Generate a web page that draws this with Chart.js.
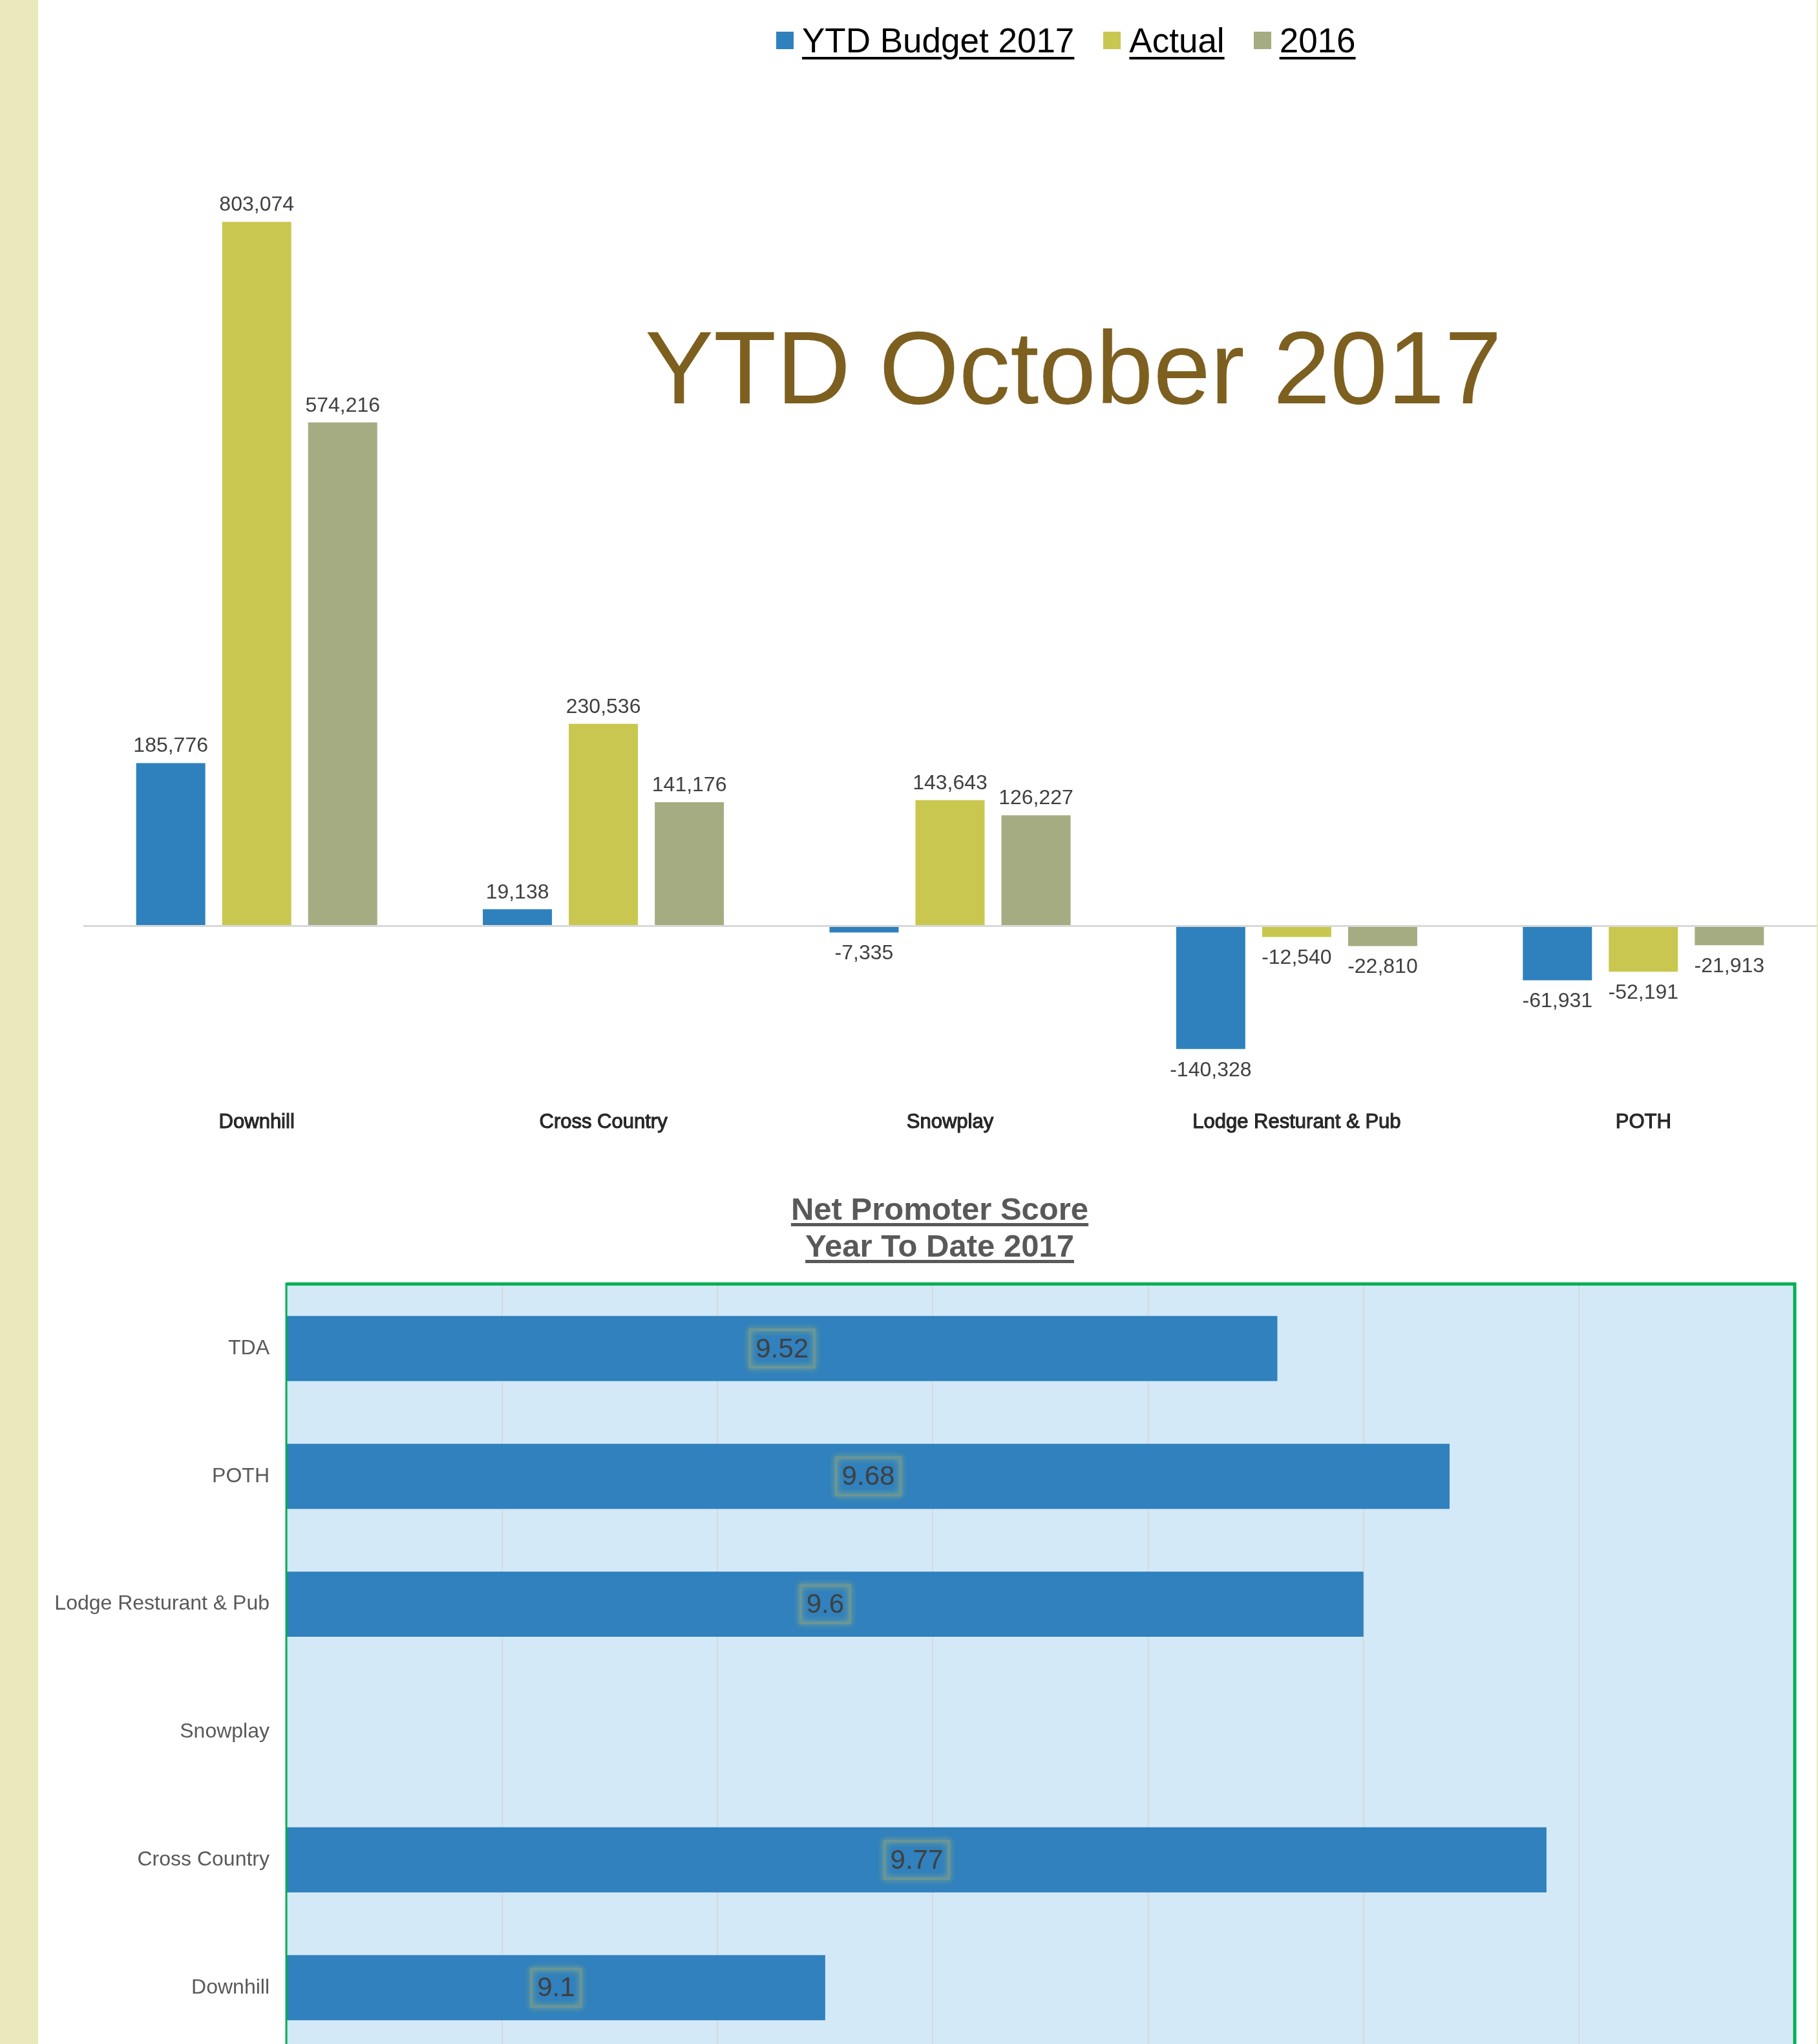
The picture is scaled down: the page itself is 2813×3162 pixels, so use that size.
<!DOCTYPE html>
<html>
<head>
<meta charset="utf-8">
<script src="https://cdn.jsdelivr.net/npm/chart.js@4.4.1/dist/chart.umd.min.js"></script>
<style>
    html, body { margin: 0; padding: 0; width: 2813px; height: 3162px; overflow: hidden; background: #fff; }
    body { position: relative; font-family: "Liberation Sans", Arial, sans-serif; }
    canvas { position: absolute; left: 0; }
    #strip { position: absolute; left: 0; top: 0; width: 59px; height: 3162px; background: #EAE9BB; z-index: 5; }
    #stripRight { position: absolute; right: 0; top: 0; width: 2px; height: 3162px; background: #EAE9BB; z-index: 5; }
    #legend { position: absolute; left: 1201px; top: 36px; display: flex; align-items: center; height: 53px; }
    .item { display: flex; align-items: center; margin-right: 45px; }
    .sq { width: 27px; height: 27px; margin-right: 13px; }
    .lbl { font-size: 53px; line-height: 53px; color: #000; text-decoration: underline; text-decoration-thickness: 4px; text-underline-offset: 7px; }
    #bigTitle { position: absolute; left: 998px; top: 490px; font-size: 159px; line-height: 159px; color: #7D5F20; white-space: nowrap; }
    #npsTitle { position: absolute; left: 1054px; width: 800px; top: 1842px; text-align: center; font-size: 49px; line-height: 57px; font-weight: bold; color: #595959; text-decoration: underline; text-decoration-thickness: 5px; text-underline-offset: 5px; }
</style>
</head>
<body>
<div id="strip"></div>
<div id="stripRight"></div>
<canvas id="ytdChart" width="2813" height="1770" style="top:0"></canvas>
<canvas id="npsChart" width="2813" height="1263" style="top:1949px"></canvas>
<div id="legend"></div>
<div id="bigTitle">YTD October 2017</div>
<div id="npsTitle">Net Promoter Score<br>Year To Date 2017</div>
<script>
// ---- data ----
var categories = ['Downhill', 'Cross Country', 'Snowplay', 'Lodge Resturant & Pub', 'POTH'];
var seriesNames = ['YTD Budget 2017', 'Actual', '2016'];
var budget2017 = [185776, 19138, -7335, -140328, -61931];
var actual2017 = [803074, 230536, 143643, -12540, -52191];
var prior2016 = [574216, 141176, 126227, -22810, -21913];
var seriesColors = ['#2F81BD', '#C9C74F', '#A5AC81'];

var npsCategories = ['TDA', 'POTH', 'Lodge Resturant & Pub', 'Snowplay', 'Cross Country', 'Downhill'];
var npsScores = [9.52, 9.68, 9.6, null, 9.77, 9.1];

Chart.defaults.font.family = '"Liberation Sans", Arial, sans-serif';
Chart.defaults.color = '#404040';

// html legend
var legendBox = document.getElementById('legend');
seriesNames.forEach(function (name, i) {
    var item = document.createElement('div');
    item.className = 'item';
    item.innerHTML = '<div class="sq" style="background:' + seriesColors[i] + '"></div><div class="lbl">' + name + '</div>';
    legendBox.appendChild(item);
});

var barValueLabels = {
    id: 'barValueLabels',
    afterDatasetsDraw: function (chart) {
        var ctx = chart.ctx;
        ctx.save();
        ctx.font = '32px "Liberation Sans", Arial, sans-serif';
        ctx.fillStyle = '#404040';
        ctx.textAlign = 'center';
        chart.data.datasets.forEach(function (ds, di) {
            chart.getDatasetMeta(di).data.forEach(function (el, i) {
                var v = ds.data[i];
                var txt = v.toLocaleString('en-US');
                if (v >= 0) {
                    ctx.textBaseline = 'alphabetic';
                    ctx.fillText(txt, el.x, el.y - 17);
                } else {
                    ctx.textBaseline = 'middle';
                    ctx.fillText(txt, el.x, el.y + 33);
                }
            });
        });
        ctx.restore();
    }
};

new Chart(document.getElementById('ytdChart'), {
    type: 'bar',
    plugins: [barValueLabels],
    data: {
        labels: categories,
        datasets: [
            { label: seriesNames[0], data: budget2017, backgroundColor: seriesColors[0] },
            { label: seriesNames[1], data: actual2017, backgroundColor: seriesColors[1] },
            { label: seriesNames[2], data: prior2016, backgroundColor: seriesColors[2] },
        ]
    },
    options: {
        responsive: false,
        animation: false,
        devicePixelRatio: 1,
        layout: { padding: { left: 129, right: 2, top: 76, bottom: 9 } },
        plugins: { legend: { display: false }, tooltip: { enabled: false } },
        datasets: { bar: { categoryPercentage: 0.744, barPercentage: 0.804 } },
        scales: {
            x: {
                grid: { display: false },
                border: { display: false },
                ticks: {
                    padding: 6,
                    maxRotation: 0,
                    color: '#2a2a2a',
                    textStrokeColor: '#000',
                    textStrokeWidth: 1,
                    font: { size: 31 },
                },
            },
            y: {
                min: -200000,
                max: 1000000,
                afterFit: function (scale) { scale.width = 0; },
                border: { display: false },
                ticks: { display: false, stepSize: 200000 },
                grid: {
                    drawTicks: false,
                    lineWidth: 3,
                    color: function (c) { return c.tick && c.tick.value === 0 ? '#D9D9D9' : 'rgba(0,0,0,0)'; },
                },
            },
        },
    },
});

// background, green frame and boxed score labels for the NPS chart
var npsDecor = {
    id: 'npsDecor',
    beforeDraw: function (chart) {
        var a = chart.chartArea, ctx = chart.ctx;
        ctx.save();
        ctx.fillStyle = '#D3E9F8';
        ctx.fillRect(a.left, a.top, a.right - a.left, a.bottom - a.top);
        ctx.restore();
    },
    afterDraw: function (chart) {
        var a = chart.chartArea, ctx = chart.ctx;
        ctx.save();
        ctx.strokeStyle = '#00B050';
        ctx.lineWidth = 5;
        ctx.beginPath();
        ctx.moveTo(a.left, a.top - 1);
        ctx.lineTo(a.right + 1, a.top - 1);
        ctx.lineTo(a.right + 1, a.bottom + 10);
        ctx.stroke();
        ctx.lineWidth = 3;
        ctx.beginPath();
        ctx.moveTo(a.left - 1, a.top - 3);
        ctx.lineTo(a.left - 1, a.bottom + 10);
        ctx.stroke();
        ctx.restore();

        var meta = chart.getDatasetMeta(0);
        var xs = chart.scales.x;
        var start = xs.getPixelForValue(xs.min);
        ctx.save();
        ctx.font = '42px "Liberation Sans", Arial, sans-serif';
        ctx.textAlign = 'center';
        ctx.textBaseline = 'middle';
        meta.data.forEach(function (el, i) {
            var v = npsScores[i];
            if (v == null) return;
            var txt = String(v);
            var cx = (xs.getPixelForValue(v) + start) / 2;
            var w = ctx.measureText(txt).width + 18;
            var h = 58;
            ctx.save();
            ctx.shadowColor = 'rgba(160,180,120,0.9)';
            ctx.shadowBlur = 10;
            ctx.strokeStyle = '#6A9696';
            ctx.lineWidth = 4;
            ctx.strokeRect(cx - w / 2, el.y - h / 2, w, h);
            ctx.restore();
            ctx.fillStyle = '#404040';
            ctx.fillText(txt, cx, el.y + 2);
        });
        ctx.restore();
    }
};

new Chart(document.getElementById('npsChart'), {
    type: 'bar',
    plugins: [npsDecor],
    data: {
        labels: npsCategories,
        datasets: [{ label: 'Net Promoter Score', data: npsScores, backgroundColor: '#3081BD' }]
    },
    options: {
        indexAxis: 'y',
        responsive: false,
        animation: false,
        devicePixelRatio: 1,
        layout: { padding: { left: 0, right: 37, top: 6, bottom: 0 } },
        plugins: { legend: { display: false }, tooltip: { enabled: false } },
        datasets: { bar: { categoryPercentage: 0.51, barPercentage: 1 } },
        scales: {
            x: {
                min: 8.6,
                max: 10,
                border: { display: false },
                ticks: { display: false, stepSize: 0.2 },
                grid: { color: '#D9D9D9', lineWidth: 2, drawTicks: false },
            },
            y: {
                afterFit: function (scale) { scale.width = 444; },
                border: { display: false },
                grid: { display: false },
                ticks: { padding: 19, color: '#595959', font: { size: 32 } },
            },
        },
    },
});
</script>
</body>
</html>
